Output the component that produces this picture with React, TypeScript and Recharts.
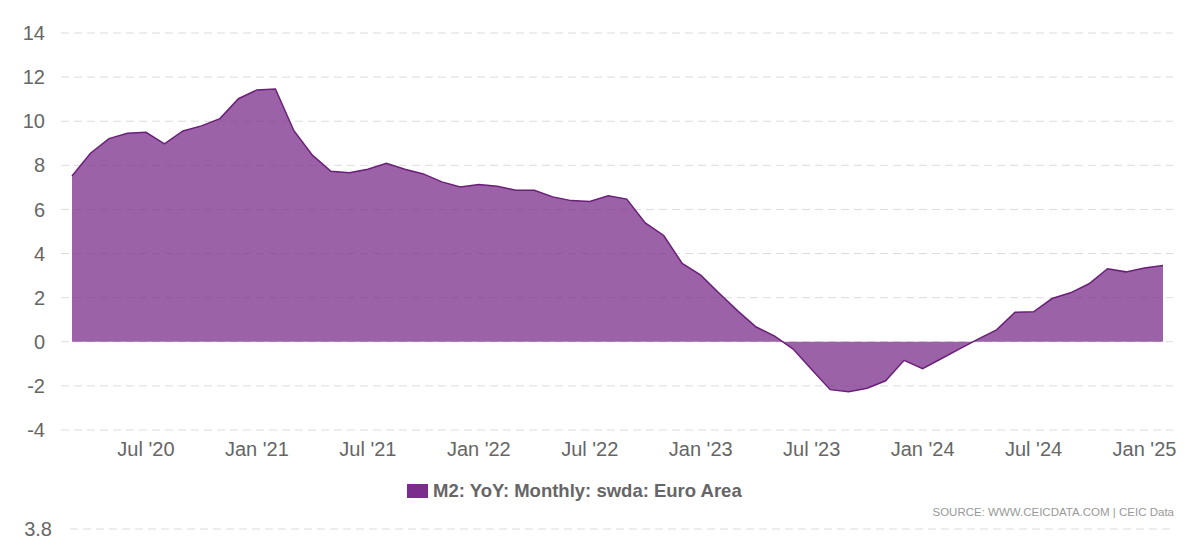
import React from "react"
import { AreaChart, Area, XAxis, YAxis, CartesianGrid } from "recharts"

// monthly, Mar 2020 .. Feb 2025
const MONTHS = [
  "Mar '20", "Apr '20", "May '20", "Jun '20", "Jul '20", "Aug '20", "Sep '20", "Oct '20", "Nov '20", "Dec '20",
  "Jan '21", "Feb '21", "Mar '21", "Apr '21", "May '21", "Jun '21", "Jul '21", "Aug '21", "Sep '21", "Oct '21", "Nov '21", "Dec '21",
  "Jan '22", "Feb '22", "Mar '22", "Apr '22", "May '22", "Jun '22", "Jul '22", "Aug '22", "Sep '22", "Oct '22", "Nov '22", "Dec '22",
  "Jan '23", "Feb '23", "Mar '23", "Apr '23", "May '23", "Jun '23", "Jul '23", "Aug '23", "Sep '23", "Oct '23", "Nov '23", "Dec '23",
  "Jan '24", "Feb '24", "Mar '24", "Apr '24", "May '24", "Jun '24", "Jul '24", "Aug '24", "Sep '24", "Oct '24", "Nov '24", "Dec '24",
  "Jan '25", "Feb '25",
]

const M2_YOY = [
  7.52, 8.55, 9.21, 9.45, 9.5, 8.97, 9.56, 9.79, 10.12, 11.02,
  11.42, 11.46, 9.57, 8.46, 7.73, 7.66, 7.82, 8.09, 7.82, 7.61, 7.25, 7.02,
  7.13, 7.05, 6.87, 6.87, 6.57, 6.4, 6.36, 6.62, 6.47, 5.39, 4.82, 3.55,
  3.02, 2.2, 1.4, 0.67, 0.26, -0.33, -1.26, -2.17, -2.26, -2.11, -1.77, -0.84,
  -1.22, -0.77, -0.32, 0.12, 0.54, 1.34, 1.36, 1.96, 2.22, 2.63, 3.31, 3.17,
  3.35, 3.46,
]

const X_TICKS = ["Jul '20", "Jan '21", "Jul '21", "Jan '22", "Jul '22", "Jan '23", "Jul '23", "Jan '24", "Jul '24", "Jan '25"]
const Y_TICKS = [-4, -2, 0, 2, 4, 6, 8, 10, 12, 14]

const SERIES_NAME = "M2: YoY: Monthly: swda: Euro Area"
const SOURCE = "SOURCE: WWW.CEICDATA.COM | CEIC Data"
const PURPLE = "#7b2d8b"
const FONT = "'Liberation Sans', Arial, sans-serif"

const data = MONTHS.map((m, i) => ({ month: m, value: M2_YOY[i] }))

export default function App() {
  return (
    <div style={{ position: "absolute", left: 0, top: 0, width: 1200, height: 547, background: "#fff", fontFamily: FONT }}>
      <AreaChart width={1200} height={470} data={data} margin={{ top: 33, right: 27, left: 0, bottom: 0 }}>
        <CartesianGrid vertical={false} stroke="#dcdcdc" strokeDasharray="8 5" />
        <XAxis
          dataKey="month"
          ticks={X_TICKS}
          interval={0}
          axisLine={false}
          tickLine={false}
          height={40}
          tickMargin={6}
          padding={{ left: 11, right: 10 }}
          tick={{ fill: "#666", fontSize: 20, fontFamily: FONT }}
        />
        <YAxis
          domain={[-4, 14]}
          ticks={Y_TICKS}
          interval={0}
          axisLine={false}
          tickLine={false}
          width={61}
          tickMargin={10}
          tick={{ fill: "#666", fontSize: 20, fontFamily: FONT }}
        />
        <Area
          type="linear"
          dataKey="value"
          baseValue={0}
          stroke="#6a1f78"
          strokeWidth={1.5}
          fill={PURPLE}
          fillOpacity={0.75}
          isAnimationActive={false}
          dot={false}
          activeDot={false}
        />
      </AreaChart>

      <div style={{ position: "absolute", left: 407, top: 479, display: "flex", alignItems: "center", height: 24 }}>
        <span style={{ display: "inline-block", width: 21, height: 14, background: PURPLE, marginRight: 5 }} />
        <span style={{ fontSize: 18.5, fontWeight: "bold", color: "#666", whiteSpace: "nowrap" }}>{SERIES_NAME}</span>
      </div>

      <svg style={{ position: "absolute", left: 0, top: 500 }} width={1200} height={47}>
        <text x={1174} y={16} textAnchor="end" fontSize={11.5} fill="#999" fontFamily={FONT}>{SOURCE}</text>
        <text x={52} y={36} textAnchor="end" fontSize={20} fill="#666" fontFamily={FONT}>3.8</text>
        <line x1={70} x2={1175} y1={29} y2={29} stroke="#dcdcdc" strokeDasharray="8 5" />
      </svg>
    </div>
  )
}
